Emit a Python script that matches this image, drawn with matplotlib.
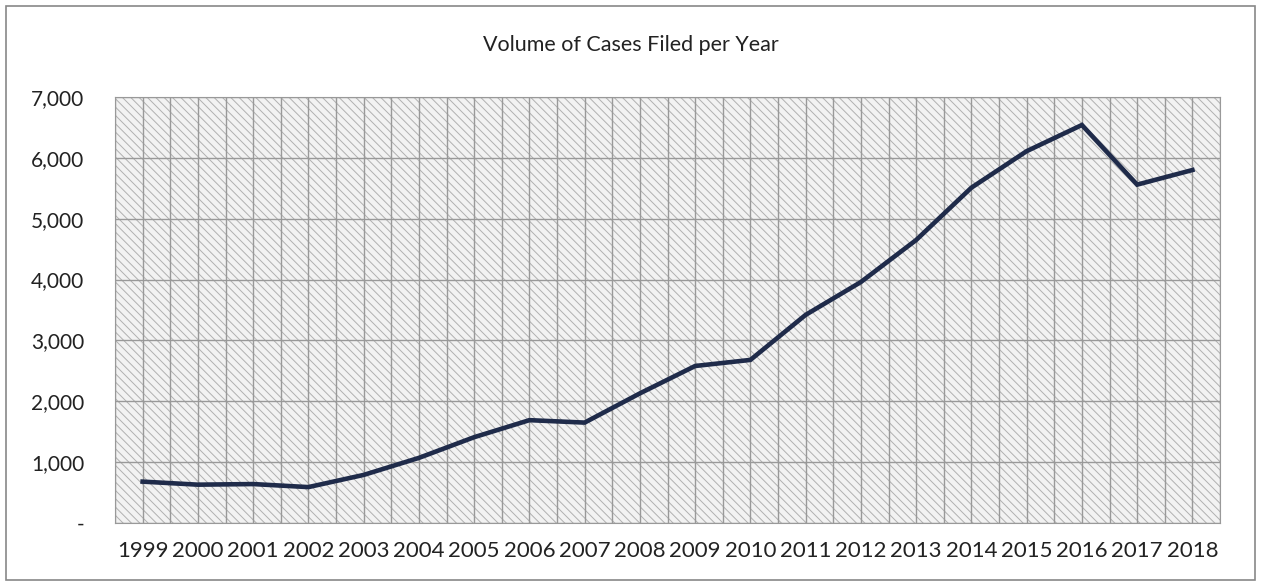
import matplotlib
matplotlib.use('Agg')
import matplotlib.pyplot as plt
from matplotlib.patches import Rectangle
from matplotlib.ticker import FuncFormatter, MultipleLocator
import numpy as np

years = ['1999', '2000', '2001', '2002', '2003', '2004', '2005', '2006', '2007', '2008',
         '2009', '2010', '2011', '2012', '2013', '2014', '2015', '2016', '2017', '2018']
cases = [680, 630, 640, 590, 790, 1070, 1410, 1690, 1650, 2130,
         2580, 2680, 3420, 3960, 4650, 5510, 6110, 6540, 5560, 5800]

plt.rcParams['font.family'] = ['Lato', 'DejaVu Sans']
plt.rcParams['hatch.linewidth'] = 0.7
plt.rcParams['hatch.color'] = '#b0b0b0'

fig = plt.figure(figsize=(12.61, 5.83), dpi=100)
ax = fig.add_axes([0.0912, 0.1029, 0.8763, 0.7307])

x = np.arange(len(years))
ax.set_xlim(-0.5, len(years) - 0.5)
ax.set_ylim(0, 7000)

# hatched plot background
ax.add_patch(Rectangle((0, 0), 1, 1, transform=ax.transAxes, facecolor='#f2f2f2',
                       edgecolor='#b0b0b0', hatch='\\\\\\\\', lw=0, zorder=0))

ax.plot(x, cases, color='#1f2b4a', lw=3.3, solid_joinstyle='miter', zorder=3)

ax.set_xticks(x)
ax.set_xticklabels(years)
ax.xaxis.set_minor_locator(MultipleLocator(1, offset=0.5))
ax.yaxis.set_major_locator(MultipleLocator(1000))
ax.yaxis.set_major_formatter(FuncFormatter(lambda v, p: '-' if v == 0 else '{:,.0f}'.format(v)))

ax.grid(True, which='both', color='#999999', lw=1.0, zorder=1)
ax.set_axisbelow(True)
ax.tick_params(which='both', length=0, labelsize=15, colors='#222222')
ax.tick_params(axis='x', pad=13, labelsize=16)
ax.tick_params(axis='y', pad=22)
for s in ax.spines.values():
    s.set_color('#999999')

fig.text(0.5, 0.923, 'Volume of Cases Filed per Year', ha='center', va='center',
         fontsize=15.5, color='#222222')

# outer chart border
fig.add_artist(Rectangle((0.005, 0.006), 0.99, 0.983, transform=fig.transFigure,
                         fill=False, edgecolor='#888888', lw=1.2))

fig.savefig('out.png', dpi=100)
